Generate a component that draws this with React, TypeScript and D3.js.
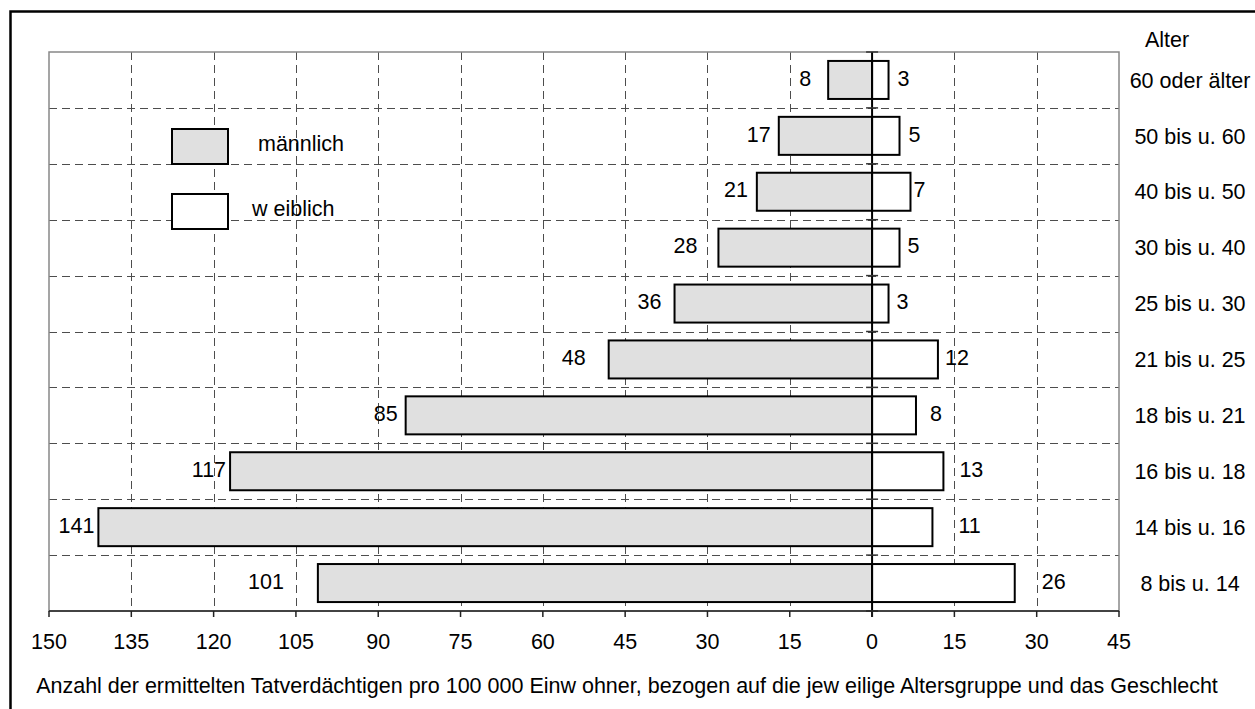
import { useEffect, useRef } from 'react'
import * as d3 from 'd3'

// Altersgruppen, von oben nach unten
const categories = [
  '60 oder älter',
  '50 bis u. 60',
  '40 bis u. 50',
  '30 bis u. 40',
  '25 bis u. 30',
  '21 bis u. 25',
  '18 bis u. 21',
  '16 bis u. 18',
  '14 bis u. 16',
  '8 bis u. 14',
]
const maleValues = [8, 17, 21, 28, 36, 48, 85, 117, 141, 101]
const femaleValues = [3, 5, 7, 5, 3, 12, 8, 13, 11, 26]
const tickValues = [-150, -135, -120, -105, -90, -75, -60, -45, -30, -15, 0, 15, 30, 45]

// Abstand der Beschriftungen vom Balkenende (Pixel, wie im Original verschoben)
const maleLabelGap = [17, 8, 9, 21, 13, 23, 8, 4, 4, 34]
const femaleLabelGap = [9, 9, 3, 8, 8, 7, 14, 16, 26, 27]

const legendItems = [
  { label: 'männlich', fill: '#e0e0e0' },
  { label: 'w eiblich', fill: '#ffffff' },
]

const FONT = '"Liberation Sans", Arial, sans-serif'
const FS = 21.5

export default function App() {
  const svgRef = useRef<SVGSVGElement>(null)

  useEffect(() => {
    document.body.style.margin = '0'
    if (!svgRef.current) return
    const svg = d3.select(svgRef.current)
    svg.selectAll('*').remove()

    const width = 1255
    const height = 709
    const plot = { left: 49, right: 1119, top: 52, bottom: 611 }

    svg.attr('width', width).attr('height', height)

    // Hintergrund und äußerer Rahmen
    svg.append('rect').attr('width', width).attr('height', height).attr('fill', '#fff')
    svg
      .append('rect')
      .attr('x', 10.5)
      .attr('y', 11.5)
      .attr('width', 1400)
      .attr('height', 900)
      .attr('fill', 'none')
      .attr('stroke', '#000')
      .attr('stroke-width', 2.5)

    const x = d3.scaleLinear().domain([-150, 45]).range([plot.left, plot.right])
    const y = d3
      .scaleBand()
      .domain(categories)
      .range([plot.top, plot.bottom])
      .paddingInner(0.32)
      .paddingOuter(0.16)
    const step = y.step()

    // Gitterlinien
    const grid = svg.append('g')
    grid
      .selectAll('.vgrid')
      .data(tickValues.filter(v => v !== 0 && v !== -150 && v !== 45))
      .enter()
      .append('line')
      .attr('x1', d => Math.round(x(d)) + 0.5)
      .attr('x2', d => Math.round(x(d)) + 0.5)
      .attr('y1', plot.top)
      .attr('y2', plot.bottom)
      .attr('stroke', '#4d4d4d')
      .attr('stroke-width', 1)
      .attr('stroke-dasharray', '8,5')
    grid
      .selectAll('.hgrid')
      .data(d3.range(1, categories.length))
      .enter()
      .append('line')
      .attr('x1', plot.left)
      .attr('x2', plot.right)
      .attr('y1', d => Math.round(plot.top + d * step) + 0.5)
      .attr('y2', d => Math.round(plot.top + d * step) + 0.5)
      .attr('stroke', '#4d4d4d')
      .attr('stroke-width', 1)
      .attr('stroke-dasharray', '8,5')

    // Rahmen der Zeichenfläche
    svg
      .append('rect')
      .attr('x', plot.left)
      .attr('y', plot.top)
      .attr('width', plot.right - plot.left)
      .attr('height', plot.bottom - plot.top)
      .attr('fill', 'none')
      .attr('stroke', '#888')
      .attr('stroke-width', 1.5)

    // Balken männlich
    svg
      .selectAll('.male')
      .data(maleValues)
      .enter()
      .append('rect')
      .attr('x', d => x(-d))
      .attr('y', (_, i) => y(categories[i]) || 0)
      .attr('width', d => x(0) - x(-d))
      .attr('height', y.bandwidth())
      .attr('fill', '#e0e0e0')
      .attr('stroke', '#000')
      .attr('stroke-width', 2)

    // Balken weiblich
    svg
      .selectAll('.female')
      .data(femaleValues)
      .enter()
      .append('rect')
      .attr('x', x(0))
      .attr('y', (_, i) => y(categories[i]) || 0)
      .attr('width', d => x(d) - x(0))
      .attr('height', y.bandwidth())
      .attr('fill', '#fff')
      .attr('stroke', '#000')
      .attr('stroke-width', 2)

    // Nulllinie mit Kreuzmarken
    const x0 = x(0)
    svg
      .append('line')
      .attr('x1', x0)
      .attr('x2', x0)
      .attr('y1', plot.top)
      .attr('y2', plot.bottom + 6)
      .attr('stroke', '#000')
      .attr('stroke-width', 2)
    svg
      .selectAll('.ytick')
      .data(d3.range(0, categories.length + 1))
      .enter()
      .append('line')
      .attr('x1', x0 - 6)
      .attr('x2', x0 + 6)
      .attr('y1', d => plot.top + d * step)
      .attr('y2', d => plot.top + d * step)
      .attr('stroke', '#333')
      .attr('stroke-width', 1.5)

    // x-Achse
    const axis = svg.append('g').attr('transform', `translate(0,${plot.bottom})`)
    axis
      .append('line')
      .attr('x1', plot.left)
      .attr('x2', plot.right)
      .attr('stroke', '#222')
      .attr('stroke-width', 1.5)
    axis
      .selectAll('.xtick')
      .data(tickValues)
      .enter()
      .append('line')
      .attr('x1', d => x(d))
      .attr('x2', d => x(d))
      .attr('y1', 0)
      .attr('y2', 6)
      .attr('stroke', '#222')
      .attr('stroke-width', 1.5)
    axis
      .selectAll('.xlabel')
      .data(tickValues)
      .enter()
      .append('text')
      .attr('x', d => x(d))
      .attr('y', 38)
      .attr('text-anchor', 'middle')
      .style('font-family', FONT)
      .style('font-size', `${FS}px`)
      .style('fill', '#000')
      .text(d => Math.abs(d).toString())

    // Wertebeschriftungen
    const labelY = (i: number) => (y(categories[i]) || 0) + y.bandwidth() / 2 + FS * 0.36 - 2
    svg
      .selectAll('.mlabel')
      .data(maleValues)
      .enter()
      .append('text')
      .attr('x', (d, i) => x(-d) - maleLabelGap[i])
      .attr('y', (_, i) => labelY(i))
      .attr('text-anchor', 'end')
      .style('font-family', FONT)
      .style('font-size', `${FS}px`)
      .text(d => d.toString())
    svg
      .selectAll('.flabel')
      .data(femaleValues)
      .enter()
      .append('text')
      .attr('x', (d, i) => x(d) + femaleLabelGap[i])
      .attr('y', (_, i) => labelY(i))
      .attr('text-anchor', 'start')
      .style('font-family', FONT)
      .style('font-size', `${FS}px`)
      .text(d => d.toString())

    // Altersgruppen rechts
    svg
      .append('text')
      .attr('x', 1167)
      .attr('y', 47)
      .attr('text-anchor', 'middle')
      .style('font-family', FONT)
      .style('font-size', `${FS}px`)
      .text('Alter')
    svg
      .selectAll('.cat')
      .data(categories)
      .enter()
      .append('text')
      .attr('x', 1190)
      .attr('y', d => (y(d) || 0) + y.bandwidth() / 2 + FS * 0.36)
      .attr('text-anchor', 'middle')
      .style('font-family', FONT)
      .style('font-size', `${FS}px`)
      .text(d => d)

    // Legende
    const legend = svg.append('g')
    legendItems.forEach((item, i) => {
      const ly = 129 + i * 65
      legend
        .append('rect')
        .attr('x', 172)
        .attr('y', ly)
        .attr('width', 56)
        .attr('height', 35)
        .attr('fill', item.fill)
        .attr('stroke', '#000')
        .attr('stroke-width', 2)
      legend
        .append('text')
        .attr('x', i === 0 ? 258 : 252)
        .attr('y', ly + 18 + FS * 0.36 - 4)
        .style('font-family', FONT)
        .style('font-size', `${FS}px`)
        .text(item.label)
    })

    // Achsentitel
    svg
      .append('text')
      .attr('x', 627)
      .attr('y', 693)
      .attr('text-anchor', 'middle')
      .style('font-family', FONT)
      .style('font-size', `${FS}px`)
      .text(
        'Anzahl der ermittelten Tatverdächtigen pro 100 000 Einw ohner, bezogen auf die jew eilige Altersgruppe und das Geschlecht'
      )
  }, [])

  return (
    <div style={{ position: 'absolute', left: 0, top: 0, width: 1255, height: 709, overflow: 'hidden' }}>
      <svg ref={svgRef} style={{ display: 'block' }}></svg>
    </div>
  )
}
